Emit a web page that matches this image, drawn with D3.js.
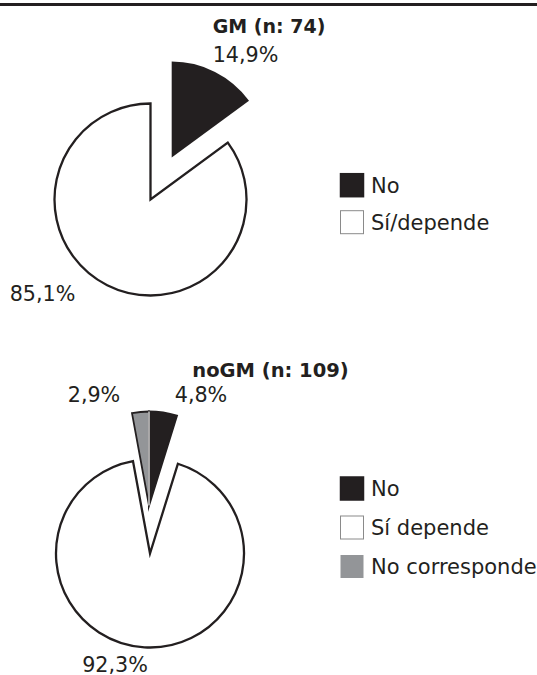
<!DOCTYPE html>
<html>
<head>
<meta charset="utf-8">
<script src="https://cdn.jsdelivr.net/npm/d3@7"></script>
<style>
  html, body { margin: 0; padding: 0; background: #fff; }
  svg { display: block; }
  text { font-family: "DejaVu Sans", sans-serif; fill: #231f20; }
</style>
</head>
<body>
<svg id="chart" width="537" height="675"></svg>
<script>
// ---- data ----
const gmTitle = "GM (n: 74)";
const gmCategories = ["No", "Sí/depende"];
const gmValues = [14.9, 85.1];

const nogmTitle = "noGM (n: 109)";
const nogmCategories = ["No", "Sí depende", "No corresponde"];
const nogmValues = [4.8, 92.3, 2.9];

// ---- styles ----
const INK = "#231f20";
const fills = { "No": INK, "Sí/depende": "#ffffff", "Sí depende": "#ffffff", "No corresponde": "#939598" };
const legendStroke = { "No": INK, "Sí/depende": "#8a8a8a", "Sí depende": "#8a8a8a", "No corresponde": "none" };

const fmt = v => v.toFixed(1).replace(".", ",") + "%";

const svg = d3.select("#chart");

// top rule
svg.append("rect").attr("x", 0).attr("y", 3).attr("width", 537).attr("height", 3).attr("fill", INK);

function drawPie(cfg) {
  const data = cfg.categories.map((c, i) => ({ cat: c, value: cfg.values[i] }));
  const pie = d3.pie().sort(null).value(d => d.value);
  const arc = d3.arc().innerRadius(0).outerRadius(cfg.r);
  const arcs = pie(data);
  const g = svg.append("g").attr("transform", `translate(${cfg.cx},${cfg.cy})`);

  const isWhite = c => c.startsWith("Sí");
  const order = arcs.slice().sort((a, b) => (isWhite(a.data.cat) ? -1 : 0) - (isWhite(b.data.cat) ? -1 : 0));
  g.selectAll("path.slice").data(order).join("path")
    .attr("class", "slice")
    .attr("d", arc)
    .attr("transform", d => {
      const ex = cfg.explode[d.data.cat];
      if (!ex) return null;
      if (Array.isArray(ex)) return `translate(${ex[0]},${ex[1]})`;
      const mid = (d.startAngle + d.endAngle) / 2;
      return `translate(${ex * Math.sin(mid)},${-ex * Math.cos(mid)})`;
    })
    .attr("fill", d => fills[d.data.cat])
    .attr("stroke", d => cfg.strokes[d.data.cat][0])
    .attr("stroke-width", d => cfg.strokes[d.data.cat][1])
    .attr("stroke-linejoin", "miter")
    .attr("stroke-miterlimit", 10);

  // white separator between adjacent dark slices
  if (cfg.separator) {
    const a0 = arcs[0].startAngle;
    g.append("line")
      .attr("x1", 0).attr("y1", 0)
      .attr("x2", cfg.r * Math.sin(a0)).attr("y2", -cfg.r * Math.cos(a0))
      .attr("stroke", "#ffffff")
      .attr("stroke-width", 1.2);
  }

  // labels
  arcs.forEach(d => {
    const off = cfg.labelPos[d.data.cat];
    g.append("text")
      .attr("x", off[0]).attr("y", off[1])
      .attr("text-anchor", "middle")
      .attr("font-size", "20.7px")
      .text(fmt(d.value));
  });

  // title
  svg.append("text")
    .attr("x", cfg.titleX).attr("y", cfg.titleY)
    .attr("text-anchor", "middle")
    .attr("font-size", cfg.titleSize)
    .attr("font-weight", "bold")
    .text(cfg.title);

  // legend
  const lg = svg.append("g");
  cfg.categories.forEach((c, i) => {
    const cy = cfg.legendY0 + i * cfg.legendStep;
    lg.append("rect")
      .attr("x", 340.5).attr("y", cy - 11.5)
      .attr("width", 23).attr("height", 23)
      .attr("fill", fills[c])
      .attr("stroke", legendStroke[c])
      .attr("stroke-width", c === "No" ? 1.5 : 1);
    lg.append("text")
      .attr("x", 371).attr("y", cy + 7.6)
      .attr("font-size", "21px")
      .text(c);
  });
}

drawPie({
  title: gmTitle, categories: gmCategories, values: gmValues,
  cx: 150.5, cy: 199.5, r: 96,
  explode: { "No": 47 },
  strokes: { "No": ["none", 0], "Sí/depende": [INK, 2.3] },
  labelPos: { "No": [95, -137.8], "Sí/depende": [-108, 101.2] },
  titleX: 269, titleY: 33.3, titleSize: "19px",
  legendY0: 185.2, legendStep: 37,
  separator: false
});

drawPie({
  title: nogmTitle, categories: nogmCategories, values: nogmValues,
  cx: 149, cy: 505.5, r: 94,
  explode: { "Sí depende": [1, 48] },
  strokes: { "No": [INK, 2], "Sí depende": [INK, 2.3], "No corresponde": [INK, 1.8] },
  labelPos: { "No": [52, -103.5], "Sí depende": [-34, 166], "No corresponde": [-55, -103.5] },
  titleX: 270.5, titleY: 376.7, titleSize: "19.5px",
  legendY0: 488.5, legendStep: 39,
  separator: true
});
</script>
</body>
</html>
